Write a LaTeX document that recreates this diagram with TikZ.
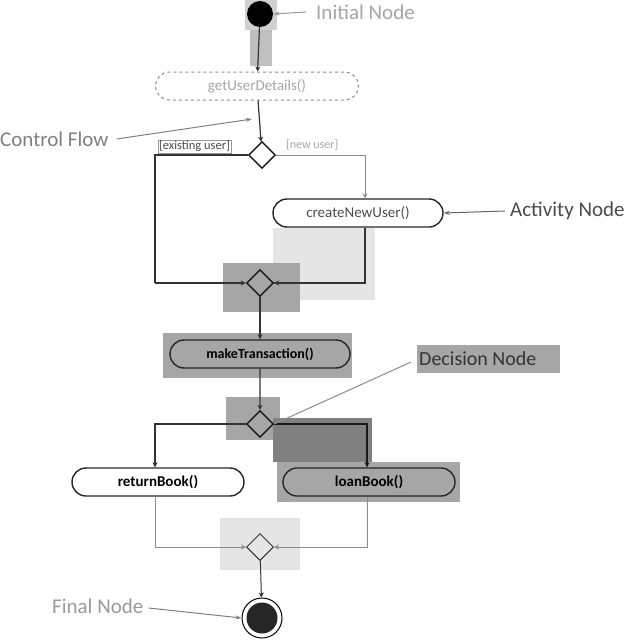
\documentclass[tikz,border=0pt]{standalone}
\usepackage{fontspec}
\setmainfont{Carlito}
\usetikzlibrary{shapes.geometric,shapes.misc,arrows.meta}
\begin{document}
\begin{tikzpicture}[x=1pt,y=-1pt,
  act/.style={draw=black!85,line width=1.4pt,rounded rectangle,minimum height=28pt,inner sep=0pt,font=\fontsize{15}{17}\selectfont},
  dec/.style={draw=black!90,line width=1.4pt,diamond,minimum size=27pt,inner sep=0pt},
  flow/.style={line width=1.2pt,draw=black!80,-{Stealth[length=5pt,width=5pt]}},
  lflow/.style={line width=0.8pt,draw=black!45,-{Stealth[length=5pt,width=5pt]}},
  lbl/.style={font=\fontsize{21}{24}\selectfont,inner sep=0pt},
  pointer/.style={line width=1pt,-{Stealth[length=6pt,width=4pt]}},
  hl/.style={fill=black!35,draw=none},
  lhl/.style={fill=black!10,draw=none}]
\useasboundingbox[fill=white] (0,0) rectangle (640,640);
% highlight boxes
\fill[black!25] (250,0) rectangle (272,66);
\fill[black!18] (245,0) rectangle (277,30);
\fill[lhl] (273,228) rectangle (375,300);
\fill[hl] (223,263) rectangle (300,312);
\fill[hl] (163,333) rectangle (352,378);
\fill[hl] (226,397) rectangle (280,440);
\fill[black!50] (273,418) rectangle (372,462);
\fill[hl] (277,462) rectangle (460,502);
\fill[lhl] (220,518) rectangle (300,570);
\fill[hl] (417,345) rectangle (560,373);
% nodes
\node[circle,fill=black,minimum size=26pt,inner sep=0pt] (init) at (260,14) {};
\node[act,draw=black!45,line width=1pt,dashed,minimum width=203pt,text=black!35] (getud) at (257,86) {getUserDetails()};
\node[dec] (d1) at (262,155) {};
\node[act,minimum width=170pt,text=black!70] (cnu) at (358,213) {createNewUser()};
\node[dec] (d2) at (260,283) {};
\node[act,minimum width=180pt,font=\fontsize{14}{17}\selectfont\bfseries] (mt) at (260,354) {makeTransaction()};
\node[dec] (d3) at (260,424) {};
\node[act,minimum width=172pt,font=\fontsize{15}{17}\selectfont\bfseries] (rb) at (158,482) {returnBook()};
\node[act,minimum width=172pt,font=\fontsize{15}{17}\selectfont\bfseries] (lb) at (369,482) {loanBook()};
\node[dec,draw=black!80,line width=1pt] (d4) at (260,547) {};
\node[circle,draw=black,line width=1pt,minimum size=40pt,inner sep=0pt] (fin) at (262,618) {};
\node[circle,fill=black!85,minimum size=31pt,inner sep=0pt] at (fin) {};
% labels
\node[lbl,anchor=west,text=black!35] (linit) at (316,12) {Initial Node};
\node[lbl,anchor=west,text=black!50] (lcf) at (0,139) {Control Flow};
\node[lbl,anchor=west,text=black!70] (lan) at (510,211) {Activity Node};
\node[lbl,anchor=west,text=black!80,font=\fontsize{20}{24}\selectfont] (ldn) at (419,359) {Decision Node};
\node[lbl,anchor=west,text=black!40] (lfn) at (52,606) {Final Node};
\node[draw=black!40,line width=0.5pt,font=\fontsize{12.5}{14}\selectfont,text=black!70,inner sep=0.8pt,anchor=south west] (gex) at (158,153) {[existing user]};
\node[font=\fontsize{12}{14}\selectfont,text=black!35,anchor=south west,inner sep=1pt] (gnew) at (285,151) {[new user]};
% flows
\draw[flow] (init) -- (getud);
\draw[flow] (getud) -- (d1);
\draw[line width=1.2pt,draw=black!80] (d1.west) -| (155,283) coordinate (c1);
\draw[flow] (c1) -- (d2.west);
\draw[lflow] (d1.east) -| (cnu.north -| 365,0);
\draw[line width=1.2pt,draw=black!80] (cnu.south -| 365,0) |- (d2.east);
\draw[flow] (365,283) -- (d2.east);
\draw[flow] (d2) -- (mt);
\draw[flow] (mt) -- (d3);
\draw[flow] (d3.west) -| (rb.north -| 155,0);
\draw[flow,line width=1.6pt,draw=black!90] (d3.east) -| (lb.north -| 367,0);
\draw[line width=0.8pt,draw=black!45] (rb.south -| 155,0) |- (235,547) coordinate (c4);
\draw[lflow] (c4) -- (d4.west);
\draw[line width=0.8pt,draw=black!45] (lb.south -| 367,0) |- (285,547) coordinate (c5);
\draw[lflow] (c5) -- (d4.east);
\draw[flow,line width=1pt] (d4) -- (fin);
% pointers
\draw[pointer,draw=black!40] (linit.west) ++(-10,0) -- (init.east);
\draw[pointer,draw=black!50] (lcf.east) ++(8,0) -- (252,119);
\draw[pointer,draw=black!60] (lan.west) ++(-5,0) -- (cnu.east);
\draw[pointer,draw=black!45,-] (ldn.west) ++(-8,3) -- (d3.east);
\draw[pointer,draw=black!50] (lfn.east) ++(5,2) -- (fin.west);
\end{tikzpicture}
\end{document}
